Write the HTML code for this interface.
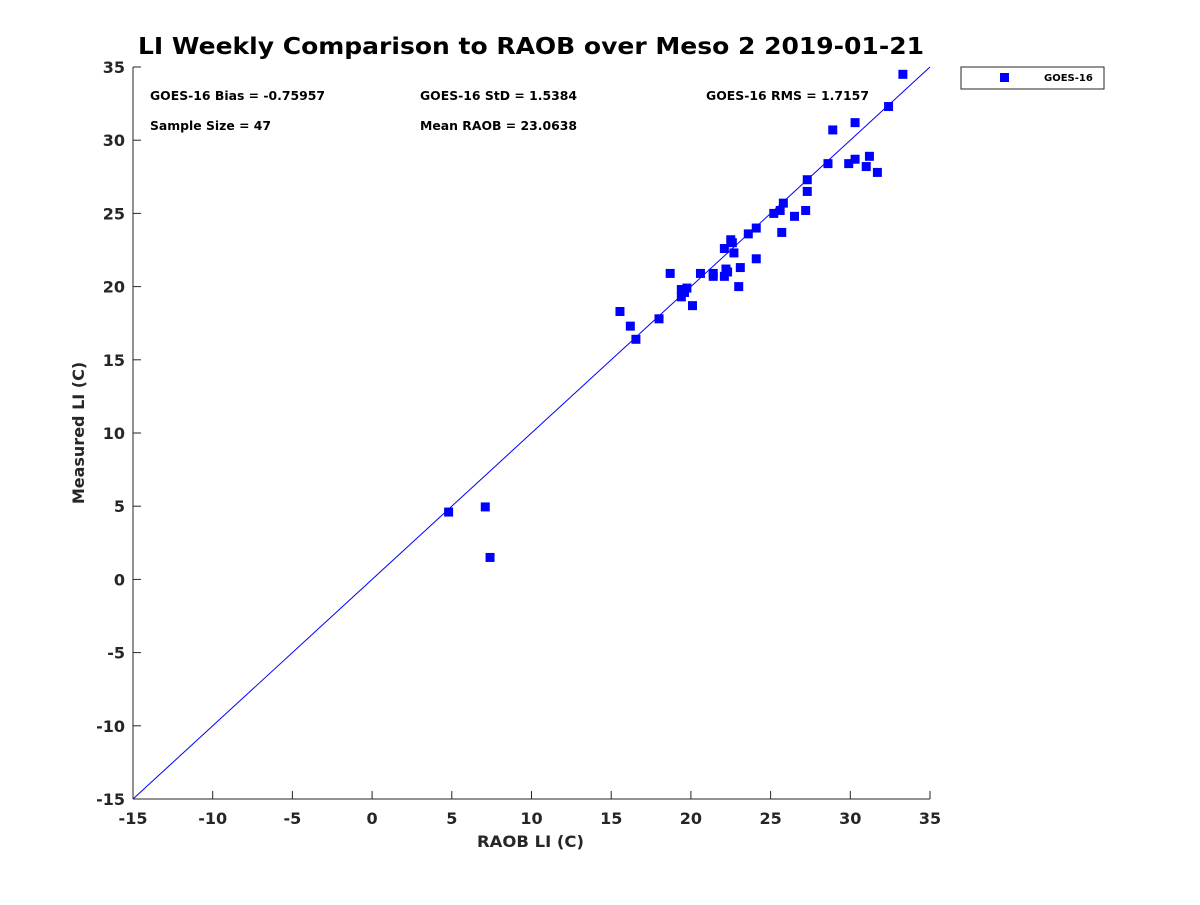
<!DOCTYPE html>
<html><head><meta charset="utf-8"><style>body{margin:0;background:#fff}svg{font-family:"DejaVu Sans","Liberation Sans",sans-serif}</style></head>
<body>
<svg id="c" width="1200" height="900">
<rect width="1200" height="900" fill="#fff"/>
<text x="138" y="54" textLength="786" lengthAdjust="spacingAndGlyphs" font-size="23" font-weight="bold">LI Weekly Comparison to RAOB over Meso 2 2019-01-21</text>
<text x="150" y="100" textLength="175" lengthAdjust="spacingAndGlyphs" font-size="12" font-weight="bold">GOES-16 Bias = -0.75957</text>
<text x="420" y="100" textLength="157" lengthAdjust="spacingAndGlyphs" font-size="12" font-weight="bold">GOES-16 StD = 1.5384</text>
<text x="706" y="100" textLength="163" lengthAdjust="spacingAndGlyphs" font-size="12" font-weight="bold">GOES-16 RMS = 1.7157</text>
<text x="150" y="130" textLength="121" lengthAdjust="spacingAndGlyphs" font-size="12" font-weight="bold">Sample Size = 47</text>
<text x="420" y="130" textLength="157" lengthAdjust="spacingAndGlyphs" font-size="12" font-weight="bold">Mean RAOB = 23.0638</text>
<text x="477" y="847" textLength="107" lengthAdjust="spacingAndGlyphs" font-size="16" font-weight="bold" fill="#262626">RAOB LI (C)</text>
<text transform="translate(84,433) rotate(-90)" text-anchor="middle" font-size="16" font-weight="bold" fill="#262626">Measured LI (C)</text>
<g>
<rect x="961" y="67" width="143" height="22" fill="#fff" stroke="#262626" stroke-width="1"/>
<rect x="1000" y="73" width="9" height="9" fill="#0000ff"/>
<text x="1044" y="81" font-size="10" font-weight="bold">GOES-16</text>
</g>
<g id="ax"></g>
</svg>
<script>
const xTicks=[-15,-10,-5,0,5,10,15,20,25,30,35];
const yTicks=[-15,-10,-5,0,5,10,15,20,25,30,35];
const raobX=[33.3,32.4,28.9,30.3,28.6,29.9,30.3,31.2,31.0,31.7,27.3,27.3,25.8,25.6,25.2,26.5,27.2,25.7,20.6,21.4,21.4,22.2,22.3,22.1,23.1,24.1,23.0,22.7,22.1,22.5,22.6,23.6,24.1,18.7,19.4,19.4,19.75,19.6,20.1,18.0,15.55,16.2,16.55,4.8,7.1,7.4];
const measY=[34.5,32.3,30.7,31.2,28.4,28.4,28.7,28.9,28.2,27.8,27.3,26.5,25.7,25.2,25.0,24.8,25.2,23.7,20.9,20.9,20.7,21.2,21.0,20.7,21.3,21.9,20.0,22.3,22.6,23.2,23.0,23.6,24.0,20.9,19.8,19.3,19.9,19.6,18.7,17.8,18.3,17.3,16.4,4.6,4.95,1.5];
const X0=133,X1=930,Y0=799,Y1=67;
const sx=v=>X0+(v+15)/50*(X1-X0);
const sy=v=>Y0-(v+15)/50*(Y0-Y1);
const NS="http://www.w3.org/2000/svg";
const g=document.getElementById('ax');
function mk(t,a){const e=document.createElementNS(NS,t);for(const k in a)e.setAttribute(k,a[k]);g.appendChild(e);return e;}
let e=mk('line',{x1:X0,y1:Y0,x2:X1,y2:Y0,stroke:'#262626'});


e=mk('line',{x1:X0,y1:Y0,x2:X0,y2:Y1,stroke:'#262626'});


xTicks.forEach(t=>{
 const l=mk('line',{x1:sx(t),y1:Y0,x2:sx(t),y2:Y0-8,stroke:'#262626'});
 
 
 const tx=mk('text',{x:sx(t),y:Y0+25,'text-anchor':'middle','font-size':16,'font-weight':'bold',fill:'#262626'});
 tx.textContent=t;
 
 
});
yTicks.forEach(t=>{
 const l=mk('line',{x1:X0,y1:sy(t),x2:X0+8,y2:sy(t),stroke:'#262626'});
 
 
 const tx=mk('text',{x:X0-8,y:sy(t)+6,'text-anchor':'end','font-size':16,'font-weight':'bold',fill:'#262626'});
 tx.textContent=t;
 
 
});
e=mk('line',{x1:sx(-15),y1:sy(-15),x2:sx(35),y2:sy(35),stroke:'#0000ff','stroke-width':1});


raobX.forEach((v,i)=>{
 const r=mk('rect',{x:sx(v)-4.5,y:sy(measY[i])-4.5,width:9,height:9,fill:'#0000ff'});
 
 
});
</script>
</body></html>
